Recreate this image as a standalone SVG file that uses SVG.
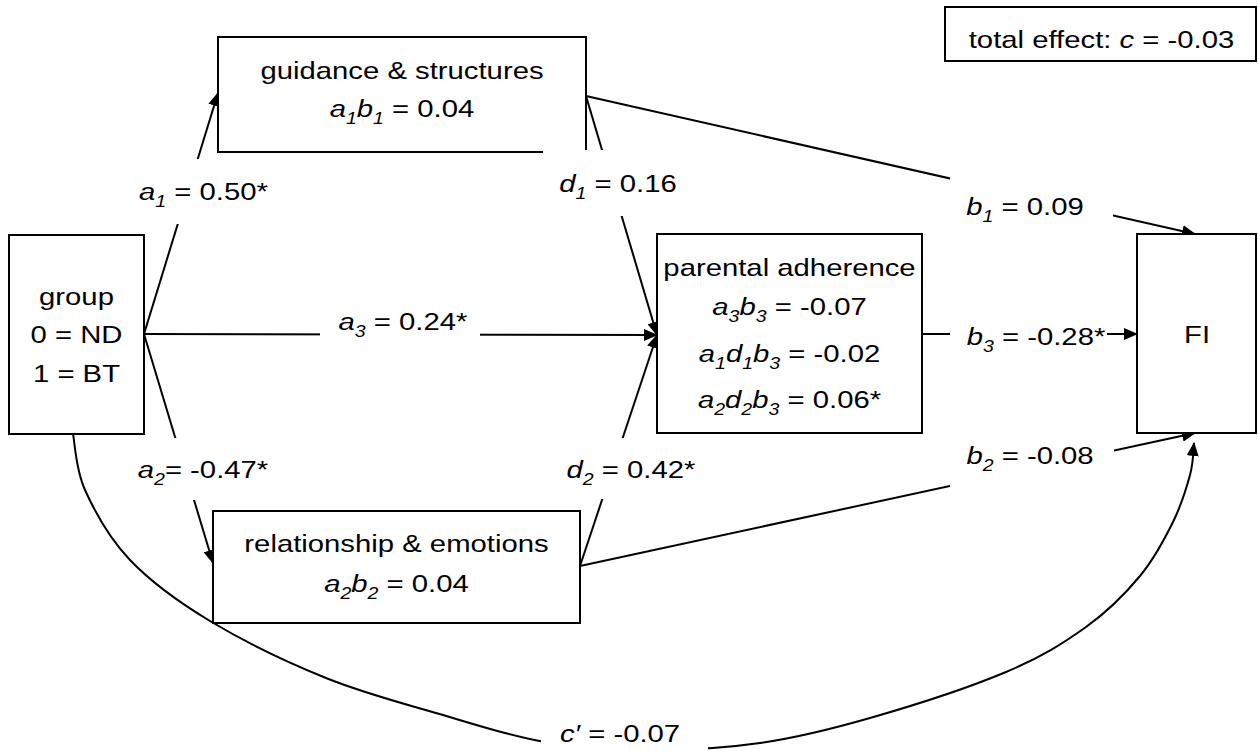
<svg xmlns="http://www.w3.org/2000/svg" width="1258" height="751" viewBox="0 0 1258 751">
<defs>
<style>
.t{font-family:"Liberation Sans",Arial,sans-serif;font-size:24px;fill:#000;text-anchor:middle}
.i{font-style:italic}
.s{font-size:16px;font-style:italic}
.box{fill:#fff;stroke:#000;stroke-width:2}
.ln{fill:none;stroke:#000;stroke-width:2}
.bg{fill:#fff;stroke:none}
</style>
<marker id="ah" markerUnits="userSpaceOnUse" markerWidth="14" markerHeight="12" viewBox="0 0 14 12" refX="13" refY="6" orient="auto"><path d="M0,0 L14,6 L0,12 z" fill="#000"/></marker>
</defs>
<rect width="1258" height="751" fill="#fff"/>
<g id="connectors">
<path class="ln" d="M144,334 L218,93" marker-end="url(#ah)"/>
<path class="ln" d="M144,334 L657,335" marker-end="url(#ah)"/>
<path class="ln" d="M144,334 L213,563" marker-end="url(#ah)"/>
<path class="ln" d="M586,96 L657,335" marker-end="url(#ah)"/>
<path class="ln" d="M580,566 L657,335" marker-end="url(#ah)"/>
<path class="ln" d="M586,96 L1195,234" marker-end="url(#ah)"/>
<path class="ln" d="M922,334 L1137,334" marker-end="url(#ah)"/>
<path class="ln" d="M580,566 L1195,433" marker-end="url(#ah)"/>
<path class="ln" d="M73,434 C75,443.3 75.5,469 85,490 C94.5,511 109.2,538.2 130,560 C150.8,581.8 177.3,601.3 210,621 C242.7,640.7 287.2,662.3 326,678 C364.8,693.7 406.5,704.3 443,715 C479.5,725.7 510.5,736.2 545,742 C579.5,747.8 614.2,749.8 650,750 C685.8,750.2 723.3,748.3 760,743 C796.7,737.7 829,729.8 870,718 C911,706.2 970,687.2 1006,672 C1042,656.8 1063.7,643 1086,627 C1108.3,611 1125.5,593.5 1140,576 C1154.5,558.5 1164.7,538.8 1173,522 C1181.3,505.2 1186.5,487.8 1190,475 C1193.5,462.2 1193.3,450 1194,443" marker-end="url(#ah)"/>
</g>
<g id="node-guidance">
<rect class="box" x="218" y="37" width="368" height="115"/>
<text class="t" transform="translate(402,79) scale(1.22,1)">guidance &amp; structures</text>
<text class="t" transform="translate(402,117) scale(1.22,1)"><tspan class="i">a</tspan><tspan class="s" dy="7">1</tspan><tspan class="i" dy="-7">b</tspan><tspan class="s" dy="7">1</tspan><tspan dy="-7"> = 0.04</tspan></text>
</g>
<g id="node-group">
<rect class="box" x="9" y="235" width="135" height="199"/>
<text class="t" transform="translate(76.5,305) scale(1.22,1)">group</text>
<text class="t" transform="translate(76.5,343) scale(1.22,1)">0 = ND</text>
<text class="t" transform="translate(76.5,382) scale(1.22,1)">1 = BT</text>
</g>
<g id="node-parental">
<rect class="box" x="657" y="234" width="265" height="199"/>
<text class="t" transform="translate(789.5,276) scale(1.22,1)">parental adherence</text>
<text class="t" transform="translate(789.5,315) scale(1.22,1)"><tspan class="i">a</tspan><tspan class="s" dy="7">3</tspan><tspan class="i" dy="-7">b</tspan><tspan class="s" dy="7">3</tspan><tspan dy="-7"> = -0.07</tspan></text>
<text class="t" transform="translate(789.5,362) scale(1.22,1)"><tspan class="i">a</tspan><tspan class="s" dy="7">1</tspan><tspan class="i" dy="-7">d</tspan><tspan class="s" dy="7">1</tspan><tspan class="i" dy="-7">b</tspan><tspan class="s" dy="7">3</tspan><tspan dy="-7"> = -0.02</tspan></text>
<text class="t" transform="translate(789.5,408) scale(1.22,1)"><tspan class="i">a</tspan><tspan class="s" dy="7">2</tspan><tspan class="i" dy="-7">d</tspan><tspan class="s" dy="7">2</tspan><tspan class="i" dy="-7">b</tspan><tspan class="s" dy="7">3</tspan><tspan dy="-7"> = 0.06*</tspan></text>
</g>
<g id="node-relationship">
<rect class="box" x="213" y="511" width="367" height="112"/>
<text class="t" transform="translate(396.5,552) scale(1.22,1)">relationship &amp; emotions</text>
<text class="t" transform="translate(396.5,592) scale(1.22,1)"><tspan class="i">a</tspan><tspan class="s" dy="7">2</tspan><tspan class="i" dy="-7">b</tspan><tspan class="s" dy="7">2</tspan><tspan dy="-7"> = 0.04</tspan></text>
</g>
<g id="node-fi">
<rect class="box" x="1137" y="234" width="119" height="199"/>
<text class="t" transform="translate(1197,343) scale(1.22,1)">FI</text>
</g>
<g id="node-total">
<rect class="box" x="945" y="7" width="311" height="54"/>
<text class="t" transform="translate(1101.5,48) scale(1.22,1)">total effect: <tspan class="i">c</tspan> = -0.03</text>
</g>
<g id="labels">
<g id="label-a1"><rect class="bg" x="128" y="159" width="152" height="65"/><text class="t" transform="translate(203.5,200) scale(1.22,1)"><tspan class="i">a</tspan><tspan class="s" dy="7">1</tspan><tspan dy="-7"> = 0.50*</tspan></text></g>
<g id="label-a3"><rect class="bg" x="320" y="310" width="160" height="45"/><text class="t" transform="translate(403,330) scale(1.22,1)"><tspan class="i">a</tspan><tspan class="s" dy="7">3</tspan><tspan dy="-7"> = 0.24*</tspan></text></g>
<g id="label-a2"><rect class="bg" x="128" y="438" width="152" height="62"/><text class="t" transform="translate(203,478) scale(1.22,1)"><tspan class="i">a</tspan><tspan class="s" dy="7">2</tspan><tspan dy="-7">= -0.47*</tspan></text></g>
<g id="label-d1"><rect class="bg" x="543" y="150" width="150" height="66"/><text class="t" transform="translate(618,192) scale(1.22,1)"><tspan class="i">d</tspan><tspan class="s" dy="7">1</tspan><tspan dy="-7"> = 0.16</tspan></text></g>
<g id="label-d2"><rect class="bg" x="548" y="438" width="152" height="61"/><text class="t" transform="translate(631,478) scale(1.22,1)"><tspan class="i">d</tspan><tspan class="s" dy="7">2</tspan><tspan dy="-7"> = 0.42*</tspan></text></g>
<g id="label-b1"><rect class="bg" x="950" y="170" width="163" height="60"/><text class="t" transform="translate(1025,215) scale(1.22,1)"><tspan class="i">b</tspan><tspan class="s" dy="7">1</tspan><tspan dy="-7"> = 0.09</tspan></text></g>
<g id="label-b3"><rect class="bg" x="950" y="315" width="157" height="45"/><text class="t" transform="translate(1036,345) scale(1.22,1)"><tspan class="i">b</tspan><tspan class="s" dy="7">3</tspan><tspan dy="-7"> = -0.28*</tspan></text></g>
<g id="label-b2"><rect class="bg" x="950" y="440" width="164" height="60"/><text class="t" transform="translate(1030,464) scale(1.22,1)"><tspan class="i">b</tspan><tspan class="s" dy="7">2</tspan><tspan dy="-7"> = -0.08</tspan></text></g>
<g id="label-c"><rect class="bg" x="541" y="722" width="167" height="29"/><text class="t" transform="translate(620,742) scale(1.22,1)"><tspan class="i">c′</tspan> = -0.07</text></g>
</g>
</svg>
